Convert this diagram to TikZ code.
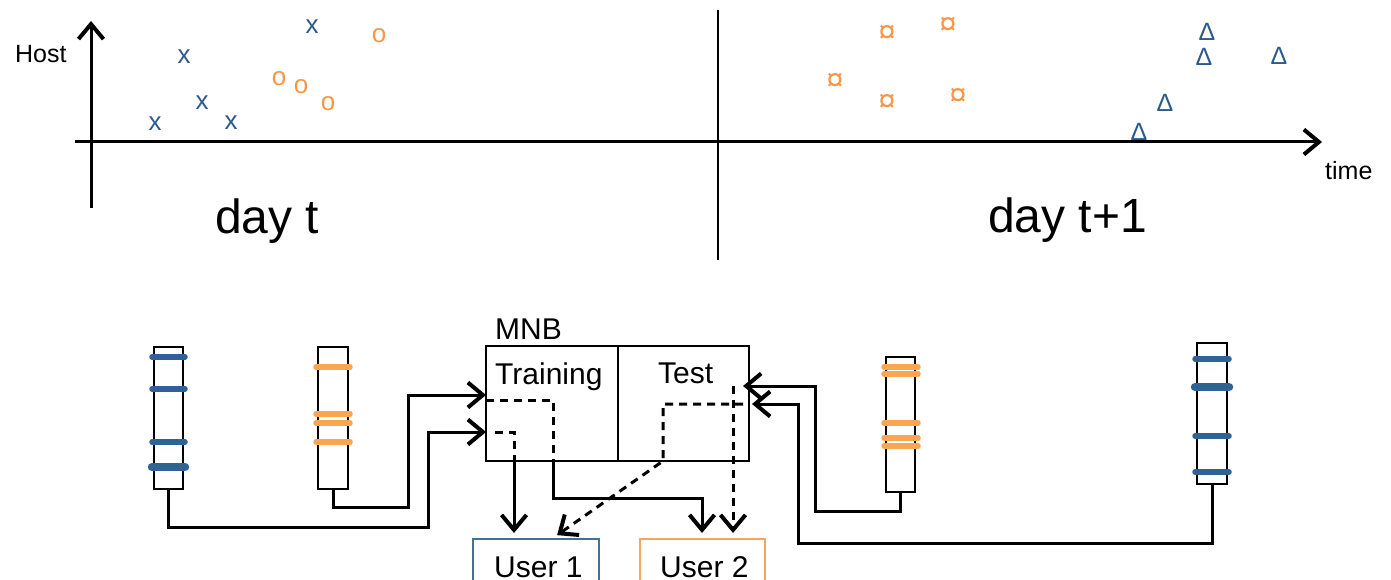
\documentclass[tikz,border=0pt]{standalone}
\usepackage{fontspec}
\setmainfont{Liberation Sans}
\usetikzlibrary{arrows.meta}
\definecolor{mblue}{RGB}{44,90,140}
\definecolor{morange}{RGB}{247,150,70}
\definecolor{bblue}{RGB}{47,99,150}
\definecolor{borange}{RGB}{250,166,80}
\definecolor{ublue}{RGB}{65,113,156}
\definecolor{uorange}{RGB}{247,165,90}
\begin{document}
\begin{tikzpicture}[x=1pt,y=-1pt,
  tipend/.style={-{Straight Barb[length=15pt,width=25pt,line width=4pt]}},
  axis/.style={line width=3pt},
  conn/.style={line width=3pt},
  dashpat/.style={dash pattern=on 8pt off 6pt},
  band/.style={line width=5.5pt,line cap=round},
  thickband/.style={line width=8.5pt,line cap=round},
  barbox/.style={draw,line width=2.3pt,inner sep=0pt,outer sep=0pt},
  cell/.style={draw,line width=2.3pt,inner sep=0pt,outer sep=0pt,minimum height=115pt},
  mk/.style={inner sep=0pt,font=\fontsize{26}{30}\selectfont},
  bx/.style={mk,text=mblue},
  ox/.style={mk,text=morange},
  cx/.style={inner sep=0pt,text=morange,font=\fontsize{31}{34}\selectfont},
  dx/.style={inner sep=0pt,text=mblue,font=\fontsize{25}{28}\selectfont},
  small/.style={inner sep=0pt,anchor=base west,font=\fontsize{25}{30}\selectfont},
  big/.style={inner sep=0pt,anchor=base west,font=\fontsize{48}{56}\selectfont},
  lbl/.style={inner sep=0pt,anchor=base west,font=\fontsize{30}{36}\selectfont}]
\clip (0,0) rectangle (1391,580);
% ---------- top chart ----------
\draw[axis,tipend] (91,208) -- (91,21);
\draw[axis,tipend] (75,142) -- (1322,142);
\draw[line width=2.2pt] (718,10) -- (718,260);
\node[small] (host) at (15,63) {Host};
\node[small] (time) at (1325,180) {time};
\node[big] (dayt) at (215,233) {day t};
\node[big] (dayt1) at (988,232) {day t+1};
% day t markers
\node[bx] (x1) at (155,124) {x};
\node[bx] (x2) at (184,57) {x};
\node[bx] (x3) at (202,103) {x};
\node[bx] (x4) at (231,123) {x};
\node[bx] (x5) at (312,27) {x};
\node[ox] (o1) at (279,79) {o};
\node[ox] (o2) at (301,87) {o};
\node[ox] (o3) at (328,104) {o};
\node[ox] (o4) at (379,36) {o};
% day t+1 markers
\node[cx] (c1) at (835,82) {¤};
\node[cx] (c2) at (887,34) {¤};
\node[cx] (c3) at (948,26) {¤};
\node[cx] (c4) at (887,103) {¤};
\node[cx] (c5) at (958,97) {¤};
\node[dx] (d1) at (1139,132) {Δ};
\node[dx] (d2) at (1165,103) {Δ};
\node[dx] (d3) at (1207,32) {Δ};
\node[dx] (d4) at (1204,57) {Δ};
\node[dx] (d5) at (1279,56) {Δ};
% ---------- bottom diagram ----------
\node[barbox,minimum width=29pt,minimum height=142pt] (bar1) at (168.5,418) {};
\node[barbox,minimum width=30pt,minimum height=142pt] (bar2) at (333,418) {};
\node[barbox,minimum width=29pt,minimum height=135pt] (bar3) at (900.5,424.5) {};
\node[barbox,minimum width=30pt,minimum height=141pt] (bar4) at (1212,413.5) {};
% bands
\foreach \y in {357,389,442} \draw[band,bblue] (152,\y) -- (185,\y);
\draw[thickband,bblue] (152,467) -- (185,467);
\foreach \y in {367,414,423,442} \draw[band,borange] (316,\y) -- (350,\y);
\foreach \y in {367,374,423,438,446} \draw[band,borange] (884,\y) -- (918,\y);
\foreach \y in {359,436,472} \draw[band,bblue] (1195,\y) -- (1229,\y);
\draw[thickband,bblue] (1195,387) -- (1229,387);
% MNB
\node[cell,minimum width=132pt] (train) at (552,403.5) {};
\node[cell,minimum width=131pt] (test) at (683.5,403.5) {};
\node[lbl] (mnb) at (495,339) {MNB};
\node[lbl] (traintxt) at (495,384) {Training};
\node[lbl] (testtxt) at (658,383) {Test};
% users
\node[draw=ublue,line width=2pt,minimum width=126pt,minimum height=70pt,inner sep=0pt] (u1) at (536,574) {};
\node[draw=uorange,line width=2pt,minimum width=125pt,minimum height=70pt,inner sep=0pt] (u2) at (702.5,574) {};
\node[lbl] (u1txt) at (494,577) {User 1};
\node[lbl] (u2txt) at (660,577) {User 2};
% connectors into Training
\draw[conn,tipend] (bar1.south) |- (428,527) |- (train.west |- 0,432);
\draw[conn,tipend] (bar2.south) |- (408,507) |- (train.west |- 0,395);
% connectors into Test
\coordinate (in3) at (743,386);
\coordinate (in4) at (752,404);
\draw[conn,tipend] (bar3.south) |- (815,511) |- (in3);
\draw[conn,tipend] (bar4.south) |- (798,543) |- (in4);
% inside Training
\draw[conn,dashpat] (train.west |- 0,400) -- (553,400) -- (553,461);
\draw[conn,tipend,shorten >=5pt] (553,461) |- (702,498) -- (u2.north -| 702,0);
\draw[conn,dashpat] (495,432) -- (514,432) -- (514,461);
\draw[conn,tipend,shorten >=5pt] (514,461) -- (u1.north -| 514,0);
% inside Test
\draw[conn,dashpat,tipend,shorten >=5pt] (743,404) -- (663,404) -- (663,461) -- (u1.north -| 553,0);
\draw[conn,dashpat,tipend,shorten >=5pt] (733,386) -- (u2.north -| 733,0);
\end{tikzpicture}
\end{document}
